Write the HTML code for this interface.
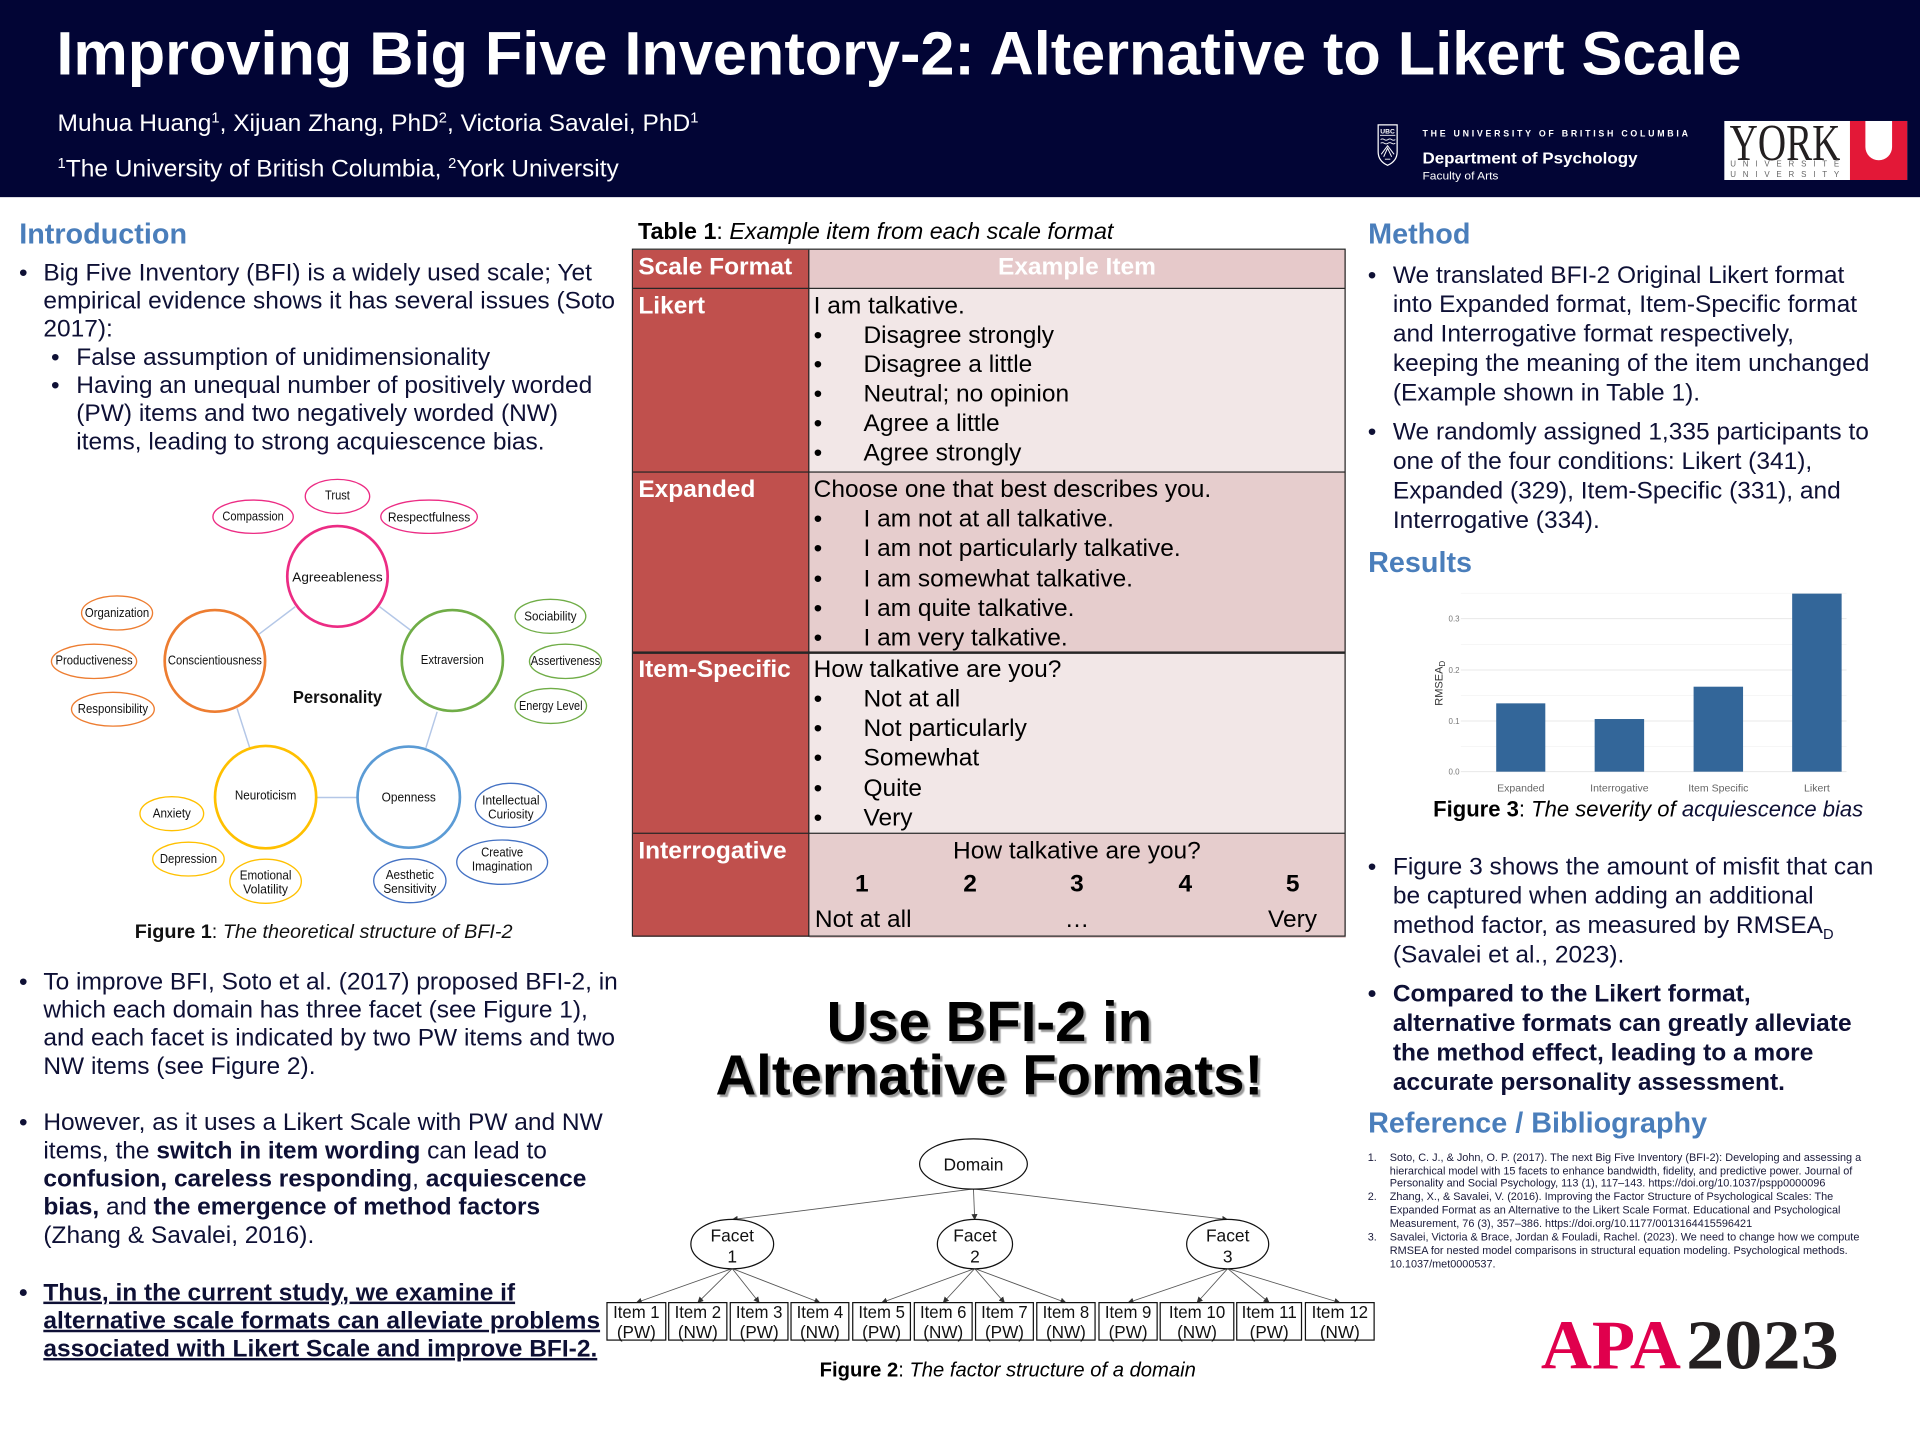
<!DOCTYPE html>
<html><head><meta charset="utf-8">
<style>
html,body{margin:0;padding:0;width:1920px;height:1440px;overflow:hidden;background:#fff;}
#w{position:absolute;left:0;top:0;width:1568px;height:1176px;transform:scale(1.2244898);transform-origin:0 0;font-family:"Liberation Sans",Arial,sans-serif;color:#0e1035;}
.a{position:absolute;white-space:nowrap;}
.p{position:absolute;white-space:nowrap;font-size:20px;line-height:23.13px;color:#0e1035;}
.r{position:absolute;white-space:nowrap;font-size:20px;line-height:24px;color:#0e1035;}
.bu{display:inline-block;width:19.9px;}
.bur{display:inline-block;width:20.5px;}
.sb{display:inline-block;width:20.6px;}
.h{position:absolute;font-size:23.5px;font-weight:bold;color:#4a7ebb;line-height:28px;white-space:nowrap;}
.tb{position:absolute;white-space:nowrap;font-size:20px;line-height:24.1px;color:#000;}
.tbu{display:inline-block;width:40.7px;}
.lab{position:absolute;white-space:nowrap;font-size:20px;line-height:24px;color:#fff;font-weight:bold;}
.ref{position:absolute;white-space:nowrap;font-size:8.9px;line-height:10.9px;color:#1a1a3a;}
.sp{font-size:12px;vertical-align:0;position:relative;top:-7px;line-height:0;}
</style></head>
<body>
<div id="w">
<!-- header -->
<div class="a" style="left:0;top:0;width:1568px;height:161px;background:#020535"></div>
<div class="a" style="left:46px;top:18.9px;font-size:50px;line-height:50px;font-weight:bold;color:#fff;">Improving Big Five Inventory-2: Alternative to Likert Scale</div>
<div class="a" style="left:47px;top:90px;font-size:20px;line-height:23px;color:#fff;">Muhua Huang<span class="sp">1</span>, Xijuan Zhang, PhD<span class="sp">2</span>, Victoria Savalei, PhD<span class="sp">1</span></div>
<div class="a" style="left:47px;top:126.5px;font-size:20px;line-height:23px;color:#fff;"><span class="sp">1</span>The University of British Columbia, <span class="sp">2</span>York University</div>

<svg class="a" style="left:0;top:0" width="1568" height="1176" viewBox="0 0 1568 1176">
<defs>
<marker id="ar" markerWidth="5" markerHeight="5" refX="4.5" refY="2.5" orient="auto" markerUnits="userSpaceOnUse"><path d="M0,0 L5,2.5 L0,5 z" fill="#333"/></marker>
</defs>
<!-- UBC logo -->
<path d="M1125.5,102 H1141 V124 Q1141,131.5 1133.2,135 Q1125.5,131.5 1125.5,124 Z" fill="none" stroke="#fff" stroke-width="1"/>
<text x="1133.2" y="109" font-size="5.5" font-weight="bold" fill="#fff" text-anchor="middle" font-family="Liberation Sans">UBC</text>
<line x1="1127" y1="110.5" x2="1139.5" y2="110.5" stroke="#fff" stroke-width="0.7"/>
<path d="M1127.5,114 q1.5,-1 3,0 t3,0 t3,0 t3,0 M1127.5,117 q1.5,-1 3,0 t3,0 t3,0 t3,0" stroke="#fff" stroke-width="0.7" fill="none"/>
<path d="M1128,126 L1133.2,119 L1138.5,126 M1130,128 L1133.2,121 L1136.5,128 M1131,130 h4.4" stroke="#fff" stroke-width="0.8" fill="none"/>
<text x="1161.7" y="111.4" font-size="7.2" font-weight="bold" fill="#fff" textLength="216.8" lengthAdjust="spacing" font-family="Liberation Sans">THE UNIVERSITY OF BRITISH COLUMBIA</text>
<text x="1161.7" y="133.5" font-size="13" font-weight="bold" fill="#fff" textLength="175.6" lengthAdjust="spacingAndGlyphs" font-family="Liberation Sans">Department of Psychology</text>
<text x="1161.7" y="146.5" font-size="8.8" fill="#fff" textLength="62" lengthAdjust="spacingAndGlyphs" font-family="Liberation Sans">Faculty of Arts</text>
<!-- York logo -->
<rect x="1408.2" y="98.8" width="149.3" height="48.2" fill="#fff"/>
<text x="1412.5" y="130.7" font-size="42" fill="#231f20" textLength="90.5" lengthAdjust="spacingAndGlyphs" font-family="Liberation Serif">YORK</text>
<text x="1413" y="136" font-size="6.5" fill="#666" textLength="89" lengthAdjust="spacing" font-family="Liberation Sans">UNIVERSITÉ</text>
<text x="1413" y="144.4" font-size="6.5" fill="#666" textLength="89" lengthAdjust="spacing" font-family="Liberation Sans">UNIVERSITY</text>
<path d="M1510.8,98.8 H1557.5 V147 H1510.8 Z M1523.4,98.8 V120 a10.9,10.9 0 0 0 21.8,0 V98.8 Z" fill="#e31837" fill-rule="evenodd"/>

<!-- Figure 1 -->
<g stroke="#b4c7e7" stroke-width="1.2">
<line x1="241.1" y1="495.5" x2="211.6" y2="517.8"/>
<line x1="310" y1="495.5" x2="336.3" y2="515.4"/>
<line x1="193.6" y1="578.5" x2="204.1" y2="611.2"/>
<line x1="357" y1="581.3" x2="347.8" y2="610.7"/>
<line x1="258.2" y1="651.3" x2="292" y2="651.3"/>
</g>
<g fill="#fff" stroke-width="2.2">
<ellipse cx="275.6" cy="470.7" rx="41" ry="41.1" stroke="#ec2c84"/>
<ellipse cx="175.5" cy="539.7" rx="41" ry="41.5" stroke="#ed7d31"/>
<ellipse cx="369.4" cy="539.4" rx="41.3" ry="41.2" stroke="#70ad47"/>
<ellipse cx="216.9" cy="651" rx="41.3" ry="41.8" stroke="#ffc000"/>
<ellipse cx="333.8" cy="651" rx="41.8" ry="41.3" stroke="#5b9bd5"/>
</g>
<g fill="#fff" stroke-width="1.1">
<ellipse cx="275.6" cy="405.4" rx="26.3" ry="13.9" stroke="#ec2c84"/>
<ellipse cx="206.7" cy="422" rx="32.8" ry="13.6" stroke="#ec2c84"/>
<ellipse cx="350.4" cy="422" rx="39.4" ry="13.6" stroke="#ec2c84"/>
<ellipse cx="95.6" cy="500.6" rx="29" ry="13.9" stroke="#ed7d31"/>
<ellipse cx="76.8" cy="540.1" rx="34.8" ry="14" stroke="#ed7d31"/>
<ellipse cx="92.2" cy="579.2" rx="33.8" ry="13.8" stroke="#ed7d31"/>
<ellipse cx="449.5" cy="503.3" rx="28.9" ry="13.9" stroke="#70ad47"/>
<ellipse cx="461.8" cy="540.1" rx="29.4" ry="14" stroke="#70ad47"/>
<ellipse cx="449.8" cy="576.5" rx="29.2" ry="14.3" stroke="#70ad47"/>
<ellipse cx="140.3" cy="664.5" rx="26" ry="13.9" stroke="#ffc000"/>
<ellipse cx="153.9" cy="701.6" rx="29.2" ry="13.8" stroke="#ffc000"/>
<ellipse cx="216.9" cy="719.7" rx="29.2" ry="18" stroke="#ffc000"/>
<ellipse cx="417.2" cy="657.7" rx="29" ry="18" stroke="#4472c4"/>
<ellipse cx="410.1" cy="704.1" rx="37.1" ry="18.1" stroke="#4472c4"/>
<ellipse cx="334.7" cy="719.3" rx="29.5" ry="17.9" stroke="#4472c4"/>
</g>
<g font-family="Liberation Sans" font-size="10.5" fill="#111" text-anchor="middle">
<text x="275.6" y="408" textLength="20.3" lengthAdjust="spacingAndGlyphs">Trust</text>
<text x="206.7" y="425.2" textLength="50.2" lengthAdjust="spacingAndGlyphs">Compassion</text>
<text x="350.4" y="425.8" textLength="67.3" lengthAdjust="spacingAndGlyphs">Respectfulness</text>
<text x="275.6" y="474.7" textLength="73.8" lengthAdjust="spacingAndGlyphs">Agreeableness</text>
<text x="95.6" y="503.8" textLength="52.5" lengthAdjust="spacingAndGlyphs">Organization</text>
<text x="76.8" y="542.8" textLength="63" lengthAdjust="spacingAndGlyphs">Productiveness</text>
<text x="92.2" y="582.3" textLength="57.4" lengthAdjust="spacingAndGlyphs">Responsibility</text>
<text x="175.5" y="542.8" textLength="76.8" lengthAdjust="spacingAndGlyphs">Conscientiousness</text>
<text x="369.4" y="542.3" textLength="51.5" lengthAdjust="spacingAndGlyphs">Extraversion</text>
<text x="449.5" y="506.6" textLength="42.7" lengthAdjust="spacingAndGlyphs">Sociability</text>
<text x="461.8" y="543.1" textLength="56.8" lengthAdjust="spacingAndGlyphs">Assertiveness</text>
<text x="449.8" y="579.8" textLength="51.8" lengthAdjust="spacingAndGlyphs">Energy Level</text>
<text x="216.9" y="653" textLength="50.2" lengthAdjust="spacingAndGlyphs">Neuroticism</text>
<text x="333.8" y="654.4" textLength="44.3" lengthAdjust="spacingAndGlyphs">Openness</text>
<text x="140.3" y="667.5" textLength="31.2" lengthAdjust="spacingAndGlyphs">Anxiety</text>
<text x="153.9" y="704.8" textLength="46.6" lengthAdjust="spacingAndGlyphs">Depression</text>
<text x="216.9" y="718.4" textLength="42.3" lengthAdjust="spacingAndGlyphs">Emotional</text>
<text x="216.9" y="729.8" textLength="36.7" lengthAdjust="spacingAndGlyphs">Volatility</text>
<text x="417.2" y="657.1" textLength="46.9" lengthAdjust="spacingAndGlyphs">Intellectual</text>
<text x="417.2" y="668.6" textLength="37.1" lengthAdjust="spacingAndGlyphs">Curiosity</text>
<text x="410.1" y="699.3" textLength="34.4" lengthAdjust="spacingAndGlyphs">Creative</text>
<text x="410.1" y="710.8" textLength="49.5" lengthAdjust="spacingAndGlyphs">Imagination</text>
<text x="334.7" y="717.9" textLength="39.4" lengthAdjust="spacingAndGlyphs">Aesthetic</text>
<text x="334.7" y="729.3" textLength="43.3" lengthAdjust="spacingAndGlyphs">Sensitivity</text>
</g>
<text x="275.6" y="574" font-family="Liberation Sans" font-size="14.5" font-weight="bold" fill="#111" text-anchor="middle" textLength="72.8" lengthAdjust="spacingAndGlyphs">Personality</text>

<!-- Figure 2 -->
<g stroke="#555" stroke-width="0.7" marker-end="url(#ar)">
<line x1="795" y1="971" x2="598" y2="996"/>
<line x1="795" y1="971" x2="796" y2="996"/>
<line x1="795" y1="971" x2="1002.6" y2="996"/>
<line x1="598" y1="1036" x2="519.7" y2="1063.8"/>
<line x1="598" y1="1036" x2="569.9" y2="1063.8"/>
<line x1="598" y1="1036" x2="620" y2="1063.8"/>
<line x1="598" y1="1036" x2="669.6" y2="1063.8"/>
<line x1="796" y1="1036" x2="720" y2="1063.8"/>
<line x1="796" y1="1036" x2="770.3" y2="1063.8"/>
<line x1="796" y1="1036" x2="820.3" y2="1063.8"/>
<line x1="796" y1="1036" x2="870.5" y2="1063.8"/>
<line x1="1002.6" y1="1036" x2="921.3" y2="1063.8"/>
<line x1="1002.6" y1="1036" x2="977.6" y2="1063.8"/>
<line x1="1002.6" y1="1036" x2="1036.5" y2="1063.8"/>
<line x1="1002.6" y1="1036" x2="1094.2" y2="1063.8"/>
</g>
<g fill="#fff" stroke="#111" stroke-width="1">
<ellipse cx="795" cy="950.6" rx="44" ry="20.5"/>
<ellipse cx="598" cy="1016" rx="33.8" ry="20.2"/>
<ellipse cx="796.2" cy="1016" rx="30.7" ry="20.2"/>
<ellipse cx="1002.6" cy="1016" rx="33.5" ry="20.2"/>
<rect x="495.7" y="1063.8" width="48" height="30.6"/>
<rect x="546.1" y="1063.8" width="47.5" height="30.6"/>
<rect x="596.4" y="1063.8" width="47.1" height="30.6"/>
<rect x="646" y="1063.8" width="47.2" height="30.6"/>
<rect x="696.4" y="1063.8" width="47.1" height="30.6"/>
<rect x="746.7" y="1063.8" width="47.2" height="30.6"/>
<rect x="796.7" y="1063.8" width="47.2" height="30.6"/>
<rect x="846.7" y="1063.8" width="47.6" height="30.6"/>
<rect x="897.5" y="1063.8" width="47.5" height="30.6"/>
<rect x="947.5" y="1063.8" width="60.1" height="30.6"/>
<rect x="1010" y="1063.8" width="52.9" height="30.6"/>
<rect x="1066.1" y="1063.8" width="56.1" height="30.6"/>
</g>
<g font-family="Liberation Sans" font-size="14.2" fill="#111" text-anchor="middle">
<text x="795" y="956">Domain</text>
<text x="598" y="1013.8">Facet</text><text x="598" y="1031">1</text>
<text x="796.2" y="1013.8">Facet</text><text x="796.2" y="1031">2</text>
<text x="1002.6" y="1013.8">Facet</text><text x="1002.6" y="1031">3</text>
</g>
<g font-family="Liberation Sans" font-size="14" fill="#111" text-anchor="middle">
<text x="519.7" y="1076.2" textLength="38" lengthAdjust="spacingAndGlyphs">Item 1</text><text x="519.7" y="1092.5">(PW)</text>
<text x="569.9" y="1076.2" textLength="38" lengthAdjust="spacingAndGlyphs">Item 2</text><text x="569.9" y="1092.5">(NW)</text>
<text x="620" y="1076.2" textLength="38" lengthAdjust="spacingAndGlyphs">Item 3</text><text x="620" y="1092.5">(PW)</text>
<text x="669.6" y="1076.2" textLength="38" lengthAdjust="spacingAndGlyphs">Item 4</text><text x="669.6" y="1092.5">(NW)</text>
<text x="720" y="1076.2" textLength="38" lengthAdjust="spacingAndGlyphs">Item 5</text><text x="720" y="1092.5">(PW)</text>
<text x="770.3" y="1076.2" textLength="38" lengthAdjust="spacingAndGlyphs">Item 6</text><text x="770.3" y="1092.5">(NW)</text>
<text x="820.3" y="1076.2" textLength="38" lengthAdjust="spacingAndGlyphs">Item 7</text><text x="820.3" y="1092.5">(PW)</text>
<text x="870.5" y="1076.2" textLength="38" lengthAdjust="spacingAndGlyphs">Item 8</text><text x="870.5" y="1092.5">(NW)</text>
<text x="921.3" y="1076.2" textLength="38" lengthAdjust="spacingAndGlyphs">Item 9</text><text x="921.3" y="1092.5">(PW)</text>
<text x="977.6" y="1076.2" textLength="46" lengthAdjust="spacingAndGlyphs">Item 10</text><text x="977.6" y="1092.5">(NW)</text>
<text x="1036.5" y="1076.2" textLength="45" lengthAdjust="spacingAndGlyphs">Item 11</text><text x="1036.5" y="1092.5">(PW)</text>
<text x="1094.2" y="1076.2" textLength="46" lengthAdjust="spacingAndGlyphs">Item 12</text><text x="1094.2" y="1092.5">(NW)</text>
</g>

<!-- Figure 3 chart -->
<g stroke="#f3f3f3" stroke-width="0.6">
<line x1="1193" y1="609.5" x2="1508" y2="609.5"/>
<line x1="1193" y1="568" x2="1508" y2="568"/>
<line x1="1193" y1="526.2" x2="1508" y2="526.2"/>
<line x1="1193" y1="484.5" x2="1508" y2="484.5"/>
</g>
<g stroke="#e8e8e8" stroke-width="0.8">
<line x1="1193" y1="630.2" x2="1508" y2="630.2"/>
<line x1="1193" y1="588.8" x2="1508" y2="588.8"/>
<line x1="1193" y1="547.2" x2="1508" y2="547.2"/>
<line x1="1193" y1="505.2" x2="1508" y2="505.2"/>
</g>
<g fill="#336699">
<rect x="1221.9" y="574.4" width="40.1" height="55.8"/>
<rect x="1302.3" y="587.2" width="40.4" height="43"/>
<rect x="1383.1" y="560.8" width="40.4" height="69.4"/>
<rect x="1463.6" y="484.8" width="40.4" height="145.4"/>
</g>
<g font-family="Liberation Sans" font-size="6.5" fill="#777" text-anchor="end">
<text x="1192" y="632.5">0.0</text>
<text x="1192" y="591.1">0.1</text>
<text x="1192" y="549.5">0.2</text>
<text x="1192" y="507.5">0.3</text>
</g>
<g font-family="Liberation Sans" font-size="8.6" fill="#666" text-anchor="middle">
<text x="1242" y="646.3">Expanded</text>
<text x="1322.5" y="646.3">Interrogative</text>
<text x="1403.3" y="646.3">Item Specific</text>
<text x="1483.8" y="646.3">Likert</text>
</g>
<text transform="translate(1178.2,558) rotate(-90)" font-family="Liberation Sans" font-size="9" fill="#333" text-anchor="middle">RMSEA<tspan font-size="6.5" dy="2">D</tspan></text>

<!-- APA 2023 -->
<text x="1258.4" y="1117.5" font-family="Liberation Serif" font-weight="bold" font-size="57" fill="#e0004d" textLength="114.3" lengthAdjust="spacingAndGlyphs">APA</text>
<text x="1377" y="1117.5" font-family="Liberation Serif" font-weight="bold" font-size="57" fill="#231f20" textLength="124.7" lengthAdjust="spacingAndGlyphs">2023</text>
</svg>

<!-- Left column -->
<div class="h" style="left:15.7px;top:176.5px;">Introduction</div>
<div class="p" style="left:15.5px;top:211.6px;">
<div><span class="bu">•</span>Big Five Inventory (BFI) is a widely used scale; Yet</div>
<div style="padding-left:19.9px">empirical evidence shows it has several issues (Soto</div>
<div style="padding-left:19.9px">2017):</div>
<div style="padding-left:26.2px"><span class="sb">•</span>False assumption of unidimensionality</div>
<div style="padding-left:26.2px"><span class="sb">•</span>Having an unequal number of positively worded</div>
<div style="padding-left:46.8px">(PW) items and two negatively worded (NW)</div>
<div style="padding-left:46.8px">items, leading to strong acquiescence bias.</div>
</div>
<div class="a" style="left:110px;top:750.5px;font-size:16.2px;line-height:21px;color:#111;"><b>Figure 1</b>: <i>The theoretical structure of BFI-2</i></div>

<div class="p" style="left:15.5px;top:790.9px;">
<div><span class="bu">•</span>To improve BFI, Soto et al. (2017) proposed BFI-2, in</div>
<div style="padding-left:19.9px">which each domain has three facet (see Figure 1),</div>
<div style="padding-left:19.9px">and each facet is indicated by two PW items and two</div>
<div style="padding-left:19.9px">NW items (see Figure 2).</div>
</div>
<div class="p" style="left:15.5px;top:905.8px;">
<div><span class="bu">•</span>However, as it uses a Likert Scale with PW and NW</div>
<div style="padding-left:19.9px">items, the <b>switch in item wording</b> can lead to</div>
<div style="padding-left:19.9px"><b>confusion, careless responding</b>, <b>acquiescence</b></div>
<div style="padding-left:19.9px"><b>bias,</b> and <b>the emergence of method factors</b></div>
<div style="padding-left:19.9px">(Zhang &amp; Savalei, 2016).</div>
</div>
<div class="p" style="left:15.5px;top:1044.6px;font-weight:bold;">
<div><span class="bu">•</span><u>Thus, in the current study, we examine if</u></div>
<div style="padding-left:19.9px"><u>alternative scale formats can alleviate problems</u></div>
<div style="padding-left:19.9px"><u>associated with Likert Scale and improve BFI-2.</u></div>
</div>

<!-- Middle: Table -->
<div class="a" style="left:521px;top:178px;font-size:19px;line-height:23px;color:#000;"><b>Table 1</b>: <i>Example item from each scale format</i></div>
<div class="a" style="left:517px;top:204.3px;width:143.5px;height:561.2px;background:#c0504d;"></div>
<div class="a" style="left:660.5px;top:204.3px;width:438px;height:31px;background:#e6c9ca;"></div>
<div class="a" style="left:660.5px;top:235.3px;width:438px;height:150px;background:#f2e7e7;"></div>
<div class="a" style="left:660.5px;top:385.2px;width:438px;height:147.7px;background:#e6cdcd;"></div>
<div class="a" style="left:660.5px;top:532.9px;width:438px;height:147.6px;background:#f2e7e7;"></div>
<div class="a" style="left:660.5px;top:680.5px;width:438px;height:85px;background:#e6cdcd;"></div>
<div class="a" style="left:516px;top:203.3px;width:580.5px;height:560.2px;border:1.5px solid #262626;"></div>
<div class="a" style="left:659.8px;top:204px;width:1.5px;height:561px;background:#262626;"></div>
<div class="a" style="left:517px;top:234.6px;width:581px;height:1.5px;background:#262626;"></div>
<div class="a" style="left:517px;top:384.5px;width:581px;height:1.5px;background:#262626;"></div>
<div class="a" style="left:517px;top:532.2px;width:581px;height:1.5px;background:#262626;"></div>
<div class="a" style="left:517px;top:679.8px;width:581px;height:1.5px;background:#262626;"></div>

<div class="lab" style="left:521.3px;top:205.9px;">Scale Format</div>
<div class="lab" style="left:660.5px;width:438px;text-align:center;top:205.9px;">Example Item</div>
<div class="lab" style="left:521.3px;top:238px;">Likert</div>
<div class="lab" style="left:521.3px;top:388.3px;">Expanded</div>
<div class="lab" style="left:521.3px;top:535.2px;">Item-Specific</div>
<div class="lab" style="left:521.3px;top:683.2px;">Interrogative</div>

<div class="tb" style="left:664.5px;top:238px;">
<div>I am talkative.</div>
<div><span class="tbu">•</span>Disagree strongly</div>
<div><span class="tbu">•</span>Disagree a little</div>
<div><span class="tbu">•</span>Neutral; no opinion</div>
<div><span class="tbu">•</span>Agree a little</div>
<div><span class="tbu">•</span>Agree strongly</div>
</div>
<div class="tb" style="left:664.5px;top:388.3px;">
<div>Choose one that best describes you.</div>
<div><span class="tbu">•</span>I am not at all talkative.</div>
<div><span class="tbu">•</span>I am not particularly talkative.</div>
<div><span class="tbu">•</span>I am somewhat talkative.</div>
<div><span class="tbu">•</span>I am quite talkative.</div>
<div><span class="tbu">•</span>I am very talkative.</div>
</div>
<div class="tb" style="left:664.5px;top:535.2px;">
<div>How talkative are you?</div>
<div><span class="tbu">•</span>Not at all</div>
<div><span class="tbu">•</span>Not particularly</div>
<div><span class="tbu">•</span>Somewhat</div>
<div><span class="tbu">•</span>Quite</div>
<div><span class="tbu">•</span>Very</div>
</div>
<div class="tb" style="left:660.5px;width:438px;text-align:center;top:683.2px;">How talkative are you?</div>
<div class="tb" style="left:693.8px;width:20px;text-align:center;top:710.3px;font-weight:bold;">1</div>
<div class="tb" style="left:782.2px;width:20px;text-align:center;top:710.3px;font-weight:bold;">2</div>
<div class="tb" style="left:869.5px;width:20px;text-align:center;top:710.3px;font-weight:bold;">3</div>
<div class="tb" style="left:958px;width:20px;text-align:center;top:710.3px;font-weight:bold;">4</div>
<div class="tb" style="left:1045.7px;width:20px;text-align:center;top:710.3px;font-weight:bold;">5</div>
<div class="tb" style="left:665.5px;top:739.2px;">Not at all</div>
<div class="tb" style="left:859.5px;width:40px;text-align:center;top:739.2px;">…</div>
<div class="tb" style="left:1035.5px;top:739.2px;">Very</div>

<!-- Big callout -->
<div class="a" style="left:508px;width:600px;text-align:center;top:812px;font-size:46px;line-height:44px;font-weight:bold;color:#000;text-shadow:2px 2px 1px #9a9a9a;">Use BFI-2 in<br>Alternative Formats!</div>

<div class="a" style="left:573px;width:500px;text-align:center;top:1108.5px;font-size:16.5px;line-height:21px;color:#000;"><b>Figure 2</b>: <i>The factor structure of a domain</i></div>

<!-- Right column -->
<div class="h" style="left:1117.3px;top:176.5px;">Method</div>
<div class="r" style="left:1117px;top:212.6px;">
<div><span class="bur">•</span>We translated BFI-2 Original Likert format</div>
<div style="padding-left:20.5px">into Expanded format, Item-Specific format</div>
<div style="padding-left:20.5px">and Interrogative format respectively,</div>
<div style="padding-left:20.5px">keeping the meaning of the item unchanged</div>
<div style="padding-left:20.5px">(Example shown in Table 1).</div>
</div>
<div class="r" style="left:1117px;top:340.5px;">
<div><span class="bur">•</span>We randomly assigned 1,335 participants to</div>
<div style="padding-left:20.5px">one of the four conditions: Likert (341),</div>
<div style="padding-left:20.5px">Expanded (329), Item-Specific (331), and</div>
<div style="padding-left:20.5px">Interrogative (334).</div>
</div>
<div class="h" style="left:1117.3px;top:444.7px;">Results</div>
<div class="a" style="left:1146px;width:400px;text-align:center;top:651px;font-size:18px;line-height:21px;color:#000;"><b>Figure 3</b>: <i>The severity of <span style="color:#0e1035">acquiescence bias</span></i></div>

<div class="r" style="left:1117px;top:695.8px;">
<div style="height:24px"><span class="bur">•</span>Figure 3 shows the amount of misfit that can</div>
<div style="padding-left:20.5px;height:24px">be captured when adding an additional</div>
<div style="padding-left:20.5px;height:24px">method factor, as measured by RMSEA<span style="font-size:12px;position:relative;top:5px;line-height:0">D</span></div>
<div style="padding-left:20.5px;height:24px">(Savalei et al., 2023).</div>
</div>
<div class="r" style="left:1117px;top:799.8px;font-weight:bold;">
<div><span class="bur">•</span>Compared to the Likert format,</div>
<div style="padding-left:20.5px">alternative formats can greatly alleviate</div>
<div style="padding-left:20.5px">the method effect, leading to a more</div>
<div style="padding-left:20.5px">accurate personality assessment.</div>
</div>
<div class="h" style="left:1117.3px;top:903.4px;">Reference / Bibliography</div>

<div class="ref" style="left:1117px;top:939.6px;">1.</div>
<div class="ref" style="left:1135px;top:939.6px;">Soto, C. J., &amp; John, O. P. (2017). The next Big Five Inventory (BFI-2): Developing and assessing a<br>hierarchical model with 15 facets to enhance bandwidth, fidelity, and predictive power. Journal of<br>Personality and Social Psychology, 113 (1), 117–143. https://doi.org/10.1037/pspp0000096</div>
<div class="ref" style="left:1117px;top:972.3px;">2.</div>
<div class="ref" style="left:1135px;top:972.3px;">Zhang, X., &amp; Savalei, V. (2016). Improving the Factor Structure of Psychological Scales: The<br>Expanded Format as an Alternative to the Likert Scale Format. Educational and Psychological<br>Measurement, 76 (3), 357–386. https://doi.org/10.1177/0013164415596421</div>
<div class="ref" style="left:1117px;top:1005px;">3.</div>
<div class="ref" style="left:1135px;top:1005px;">Savalei, Victoria &amp; Brace, Jordan &amp; Fouladi, Rachel. (2023). We need to change how we compute<br>RMSEA for nested model comparisons in structural equation modeling. Psychological methods.<br>10.1037/met0000537.</div>
</div>
</body></html>
